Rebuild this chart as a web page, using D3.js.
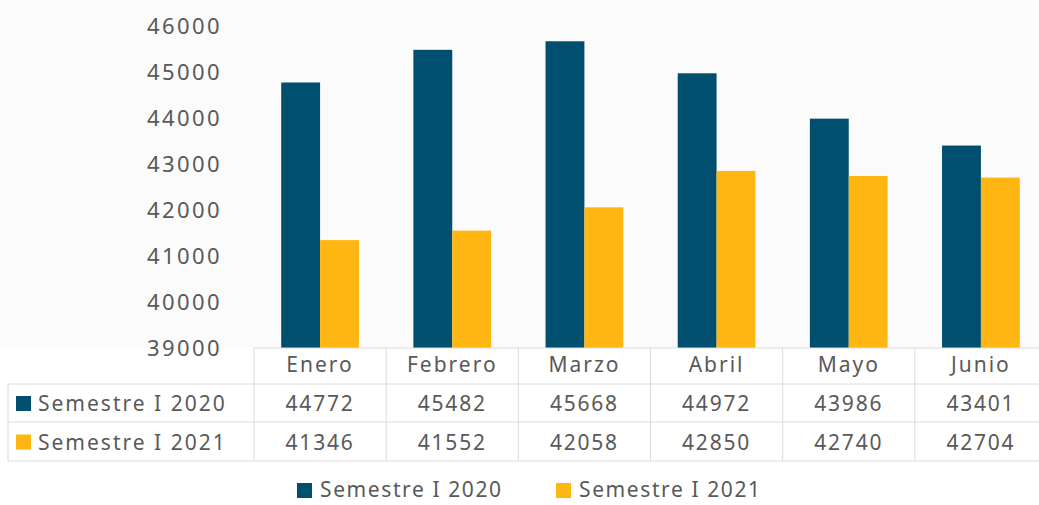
<!DOCTYPE html>
<html lang="es">
<head>
<meta charset="UTF-8">
<title>Semestre I 2020 vs 2021</title>
<style>
    body { margin: 0; padding: 0; background: white; }
    text { font-family: "Noto Sans", sans-serif; fill: #595959; }
</style>
</head>
<body>
<script src="https://cdn.jsdelivr.net/npm/d3@7"></script>
<script>
    var meses = ['Enero', 'Febrero', 'Marzo', 'Abril', 'Mayo', 'Junio'];
    var series = ['Semestre I 2020', 'Semestre I 2021'];
    var valores2020 = [44772, 45482, 45668, 44972, 43986, 43401];
    var valores2021 = [41346, 41552, 42058, 42850, 42740, 42704];
    var ticksY = [39000, 40000, 41000, 42000, 43000, 44000, 45000, 46000];
    var colores = ['#004f6e', '#ffb612'];

    var W = 1039, H = 505;
    var svg = d3.select('body').append('svg')
        .attr('width', W).attr('height', H);

    // fondo claro detras de las barras
    svg.append('rect').attr('x', 0).attr('y', 0)
        .attr('width', W).attr('height', 348).attr('fill', '#fbfbfb');

    var x = d3.scaleBand().domain(meses).range([254, 1047]);
    var y = d3.scaleLinear().domain([39000, 46000]).range([348, 26]);
    var xs = d3.scaleBand().domain(series).range([0, x.bandwidth()]).paddingOuter(0.7);

    var datos = meses.map(function(m, i) {
        return { mes: m, vals: [valores2020[i], valores2021[i]] };
    });

    // eje y
    var ejeY = svg.append('g').attr('transform', 'translate(222,0)')
        .call(d3.axisLeft(y).tickValues(ticksY).tickSize(0).tickPadding(0).tickFormat(d3.format('d')));
    ejeY.select('.domain').remove();
    ejeY.selectAll('text').style('font-size', '22px').style('letter-spacing', '2.4px')
        .attr('fill', '#595959').style('font-family', '"Noto Sans", sans-serif');

    // barras
    var grupos = svg.selectAll('g.mes').data(datos).enter().append('g')
        .attr('class', 'mes')
        .attr('transform', function(d) { return 'translate(' + x(d.mes) + ',0)'; });
    grupos.selectAll('rect').data(function(d) {
        return d.vals.map(function(v, j) { return { s: series[j], v: v, j: j }; });
    }).enter().append('rect')
        .attr('x', function(d) { return xs(d.s); })
        .attr('width', xs.bandwidth())
        .attr('y', function(d) { return y(d.v); })
        .attr('height', function(d) { return y(39000) - y(d.v); })
        .attr('fill', function(d) { return colores[d.j]; });

    // tabla de datos
    var filas = [348, 384, 422, 461];
    var linea = '#dcdcdc';
    var tabla = svg.append('g');
    tabla.append('line').attr('x1', 254).attr('x2', W).attr('y1', filas[0]).attr('y2', filas[0]).attr('stroke', linea);
    filas.slice(1).forEach(function(f) {
        tabla.append('line').attr('x1', 8).attr('x2', W).attr('y1', f).attr('y2', f).attr('stroke', linea);
    });
    tabla.append('line').attr('x1', 8).attr('x2', 8).attr('y1', filas[1]).attr('y2', filas[3]).attr('stroke', linea);
    meses.forEach(function(m) {
        tabla.append('line').attr('x1', x(m)).attr('x2', x(m)).attr('y1', filas[0]).attr('y2', filas[3]).attr('stroke', linea);
    });

    tabla.selectAll('text.mesLbl').data(meses).enter().append('text')
        .attr('class', 'mesLbl')
        .attr('x', function(d) { return x(d) + x.bandwidth() / 2; })
        .attr('y', 372).attr('text-anchor', 'middle')
        .style('font-size', '21px').style('letter-spacing', '2px')
        .text(function(d) { return d; });

    [valores2020, valores2021].forEach(function(vals, j) {
        var fy = (filas[j + 1] + filas[j + 2]) / 2 + 8;
        tabla.append('rect').attr('x', 16).attr('y', fy - 15).attr('width', 15).attr('height', 15).attr('fill', colores[j]);
        tabla.append('text').attr('x', 38).attr('y', fy)
            .style('font-size', '21px').style('letter-spacing', '2px').text(series[j]);
        tabla.selectAll('text.v' + j).data(vals).enter().append('text')
            .attr('class', 'v' + j)
            .attr('x', function(d, i) { return x(meses[i]) + x.bandwidth() / 2; })
            .attr('y', fy).attr('text-anchor', 'middle')
            .style('font-size', '21px').style('letter-spacing', '1.8px')
            .text(function(d) { return d; });
    });

    // leyenda
    var leyX = [297, 556];
    series.forEach(function(s, j) {
        var g = svg.append('g').attr('transform', 'translate(' + leyX[j] + ',0)');
        g.append('rect').attr('x', 0).attr('y', 483).attr('width', 15).attr('height', 15).attr('fill', colores[j]);
        g.append('text').attr('x', 23).attr('y', 497)
            .style('font-size', '21px').style('letter-spacing', '1.6px').text(s);
    });
</script>
</body>
</html>
